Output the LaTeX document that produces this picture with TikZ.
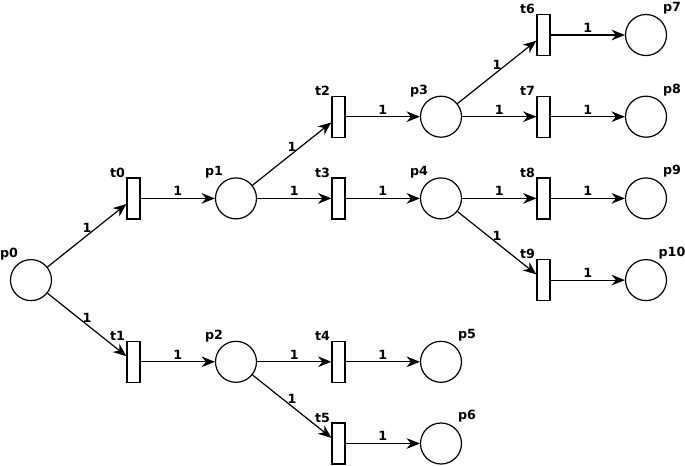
\documentclass[tikz,border=0pt]{standalone}
\usepackage{fontspec}
\setmainfont{DejaVu Sans}
\usetikzlibrary{arrows.meta}

\begin{document}
\begin{tikzpicture}[x=76.875pt,y=-61.275pt,
    place/.style={circle,draw,line width=0.9pt,minimum size=30.75pt,inner sep=0pt},
    trans/.style={rectangle,draw,line width=0.9pt,minimum width=9.75pt,minimum height=30.75pt,inner sep=0pt},
    lbl/.style={font=\bfseries\fontsize{9.5}{11}\selectfont,inner sep=0pt},
    pleft/.style={place,label={[lbl,xshift=-16.5pt,yshift=19.5pt]center:#1}},
    pright/.style={place,label={[lbl,xshift=19.5pt,yshift=20.25pt]center:#1}},
    tleft/.style={trans,label={[lbl,xshift=-12pt,yshift=19.5pt]center:#1}},
    arc/.style={-{Stealth[length=10pt,width=8pt]},line width=0.9pt},
    weight/.style={lbl,midway,above,inner sep=1.5pt}]
    \useasboundingbox(-0.3024,-0.4284)rectangle(6.3805,5.2632);
    % places
    \node[pleft=p0](p0)at(0,3){};
    \node[pleft=p1](p1)at(2,2){};
    \node[pleft=p2](p2)at(2,4){};
    \node[pleft=p3](p3)at(4,1){};
    \node[pleft=p4](p4)at(4,2){};
    \node[pright=p5](p5)at(4,4){};
    \node[pright=p6](p6)at(4,5){};
    \node[pright=p7](p7)at(6,0){};
    \node[pright=p8](p8)at(6,1){};
    \node[pright=p9](p9)at(6,2){};
    \node[pright=p10](p10)at(6,3){};
    % transitions
    \node[tleft=t0](t0)at(1,2){};
    \node[tleft=t1](t1)at(1,4){};
    \node[tleft=t2](t2)at(3,1){};
    \node[tleft=t3](t3)at(3,2){};
    \node[tleft=t4](t4)at(3,4){};
    \node[tleft=t5](t5)at(3,5){};
    \node[tleft=t6](t6)at(5,0){};
    \node[tleft=t7](t7)at(5,1){};
    \node[tleft=t8](t8)at(5,2){};
    \node[tleft=t9](t9)at(5,3){};
    % arcs
    \foreach \a/\b in {p0/t0,p0/t1,t0/p1,t1/p2,p1/t2,p1/t3,p2/t4,p2/t5,
                       t2/p3,t3/p4,t4/p5,t5/p6,p3/t6,p3/t7,p4/t8,p4/t9,
                       t6/p7,t7/p8,t8/p9,t9/p10}
        \draw[arc](\a)--node[weight]{1}(\b);
\end{tikzpicture}
\end{document}
